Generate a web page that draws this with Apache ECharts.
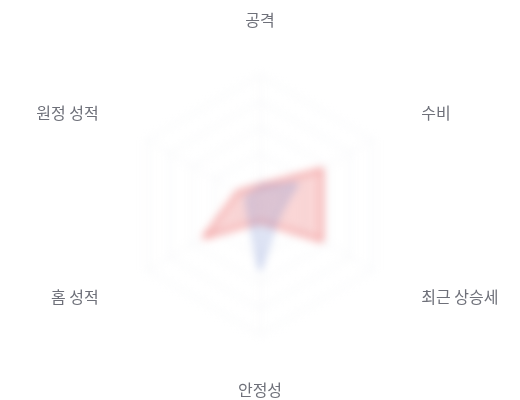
<!DOCTYPE html>
<html>
<head>
<meta charset="utf-8">
<script src="https://cdn.jsdelivr.net/npm/echarts@6/dist/echarts.min.js"></script>
<style>
  html, body { margin: 0; padding: 0; background: #fff; }
  #wrap { position: relative; width: 520px; height: 400px; }
  #body, #names { position: absolute; left: 0; top: 0; width: 520px; height: 400px; }
  #body { filter: blur(4.5px); }
</style>
</head>
<body>
<div id="wrap">
  <div id="body"></div>
  <div id="names"></div>
</div>
<script>
// indicators go counter-clockwise from the top
var indicatorNames = ['공격', '원정 성적', '홈 성적', '안정성', '최근 상승세', '수비'];
var maxValue = 100;
var redValues = [15, 20, 50, 13, 55, 55];
var blueValues = [14, 12, 10, 50, 16, 33];

var indicators = indicatorNames.map(function (n) {
  return { name: n, max: maxValue };
});

function baseRadar() {
  return {
    center: [260, 205],
    radius: 130,
    startAngle: 90,
    splitNumber: 5,
    indicator: indicators
  };
}

// blurred part: grid and the two areas
var bodyChart = echarts.init(document.getElementById('body'));
var r1 = baseRadar();
r1.axisName = { show: false };
r1.splitLine = { lineStyle: { color: '#eceef2', width: 1 } };
r1.splitArea = { show: false };
r1.axisLine = { lineStyle: { color: '#f0f1f4' } };
bodyChart.setOption({
  backgroundColor: 'transparent',
  animation: false,
  radar: r1,
  series: [{
    type: 'radar',
    symbol: 'none',
    data: [
      {
        value: redValues,
        lineStyle: { color: '#ee6666', width: 2 },
        areaStyle: { color: 'rgba(238,102,102,0.38)' }
      },
      {
        value: blueValues,
        lineStyle: { color: '#7b93d6', width: 1 },
        areaStyle: { color: 'rgba(84,112,198,0.25)' }
      }
    ]
  }]
});

// sharp part: only the axis names
var nameChart = echarts.init(document.getElementById('names'));
var r2 = baseRadar();
r2.nameGap = 54;
r2.axisName = {
  color: '#6e7079',
  fontSize: 16,
  lineHeight: 2,
  fontFamily: 'Noto Sans CJK KR',
  padding: [0, 2]
};
r2.splitLine = { show: false };
r2.splitArea = { show: false };
r2.axisLine = { show: false };
nameChart.setOption({
  backgroundColor: 'transparent',
  animation: false,
  radar: r2
});
</script>
</body>
</html>
